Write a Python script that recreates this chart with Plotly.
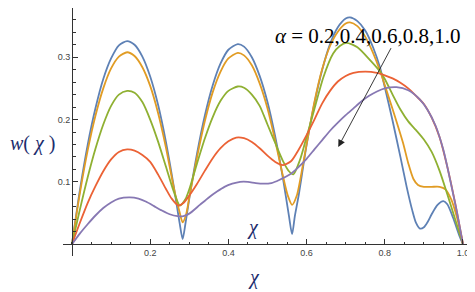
import plotly.graph_objects as go

# ---- data ----
x_a02 = [0, 0.02, 0.04, 0.06, 0.08, 0.10, 0.12, 0.141, 0.16, 0.18, 0.20, 0.22, 0.24, 0.26, 0.275, 0.283,
         0.29, 0.30, 0.32, 0.34, 0.36, 0.38, 0.40, 0.424, 0.44, 0.46, 0.48, 0.50, 0.52, 0.54, 0.555, 0.563,
         0.57, 0.58, 0.60, 0.62, 0.64, 0.66, 0.68, 0.70, 0.711, 0.73, 0.75, 0.77, 0.788, 0.80, 0.82, 0.84,
         0.856, 0.87, 0.88, 0.89, 0.90, 0.91, 0.92, 0.935, 0.95, 0.96, 0.975, 0.99, 1.0]
w_a02 = [0, 0.086, 0.159, 0.218, 0.265, 0.298, 0.319, 0.326, 0.320, 0.301, 0.269, 0.224, 0.165, 0.094, 0.035, 0.008,
         0.032, 0.073, 0.146, 0.207, 0.255, 0.290, 0.312, 0.321, 0.317, 0.300, 0.270, 0.228, 0.172, 0.104, 0.045, 0.016,
         0.045, 0.079, 0.159, 0.226, 0.280, 0.321, 0.348, 0.362, 0.364, 0.358, 0.343, 0.316, 0.283, 0.252, 0.198, 0.140,
         0.092, 0.055, 0.034, 0.025, 0.027, 0.036, 0.048, 0.063, 0.069, 0.064, 0.042, 0.015, 0]

x_a04 = [0, 0.02, 0.04, 0.06, 0.08, 0.10, 0.12, 0.141, 0.16, 0.18, 0.20, 0.22, 0.24, 0.26, 0.275, 0.283,
         0.292, 0.30, 0.32, 0.34, 0.36, 0.38, 0.40, 0.424, 0.44, 0.46, 0.48, 0.50, 0.52, 0.54, 0.552, 0.563,
         0.575, 0.59, 0.60, 0.62, 0.64, 0.66, 0.68, 0.70, 0.711, 0.73, 0.75, 0.77, 0.788, 0.81, 0.83, 0.847,
         0.86, 0.873, 0.885, 0.90, 0.92, 0.94, 0.955, 0.97, 0.985, 1.0]
w_a04 = [0, 0.081, 0.150, 0.206, 0.250, 0.282, 0.301, 0.308, 0.302, 0.284, 0.254, 0.211, 0.156, 0.092, 0.052, 0.035,
         0.048, 0.075, 0.140, 0.198, 0.244, 0.277, 0.298, 0.307, 0.303, 0.287, 0.258, 0.218, 0.165, 0.108, 0.078, 0.063,
         0.078, 0.125, 0.160, 0.228, 0.281, 0.318, 0.341, 0.354, 0.356, 0.350, 0.333, 0.307, 0.278, 0.236, 0.197, 0.162,
         0.130, 0.105, 0.095, 0.092, 0.092, 0.092, 0.088, 0.072, 0.042, 0]

x_a06 = [0, 0.02, 0.04, 0.06, 0.08, 0.10, 0.12, 0.141, 0.16, 0.18, 0.20, 0.22, 0.24, 0.26, 0.276,
         0.29, 0.30, 0.32, 0.34, 0.36, 0.38, 0.40, 0.424, 0.44, 0.46, 0.48, 0.50, 0.52, 0.54, 0.555, 0.566,
         0.583, 0.60, 0.617, 0.643, 0.668, 0.685, 0.702, 0.73, 0.76, 0.788, 0.80, 0.82, 0.84, 0.86, 0.88,
         0.90, 0.92, 0.94, 0.96, 0.98, 1.0]
w_a06 = [0, 0.055, 0.107, 0.153, 0.192, 0.222, 0.240, 0.246, 0.243, 0.228, 0.200, 0.165, 0.125, 0.085, 0.062,
         0.072, 0.088, 0.130, 0.170, 0.204, 0.230, 0.246, 0.253, 0.251, 0.240, 0.222, 0.192, 0.162, 0.133, 0.117, 0.112,
         0.135, 0.172, 0.210, 0.268, 0.306, 0.318, 0.323, 0.316, 0.297, 0.277, 0.265, 0.240, 0.216, 0.197, 0.183,
         0.168, 0.148, 0.118, 0.080, 0.040, 0]

x_a08 = [0, 0.02, 0.04, 0.06, 0.08, 0.10, 0.12, 0.141, 0.16, 0.18, 0.20, 0.22, 0.24, 0.255, 0.272,
         0.285, 0.30, 0.32, 0.34, 0.36, 0.38, 0.40, 0.42, 0.44, 0.46, 0.48, 0.50, 0.52, 0.54, 0.56,
         0.58, 0.60, 0.62, 0.64, 0.66, 0.68, 0.70, 0.72, 0.75, 0.78, 0.80, 0.82, 0.84, 0.86, 0.88,
         0.90, 0.92, 0.94, 0.96, 0.98, 1.0]
w_a08 = [0, 0.034, 0.066, 0.093, 0.117, 0.136, 0.148, 0.152, 0.150, 0.143, 0.132, 0.112, 0.089, 0.073, 0.062,
         0.066, 0.078, 0.097, 0.118, 0.138, 0.154, 0.165, 0.171, 0.170, 0.164, 0.154, 0.142, 0.132, 0.127, 0.133,
         0.152, 0.175, 0.200, 0.226, 0.246, 0.261, 0.270, 0.275, 0.277, 0.275, 0.271, 0.266, 0.259, 0.250, 0.238,
         0.225, 0.203, 0.172, 0.124, 0.066, 0]

x_a10 = [0, 0.02, 0.04, 0.06, 0.08, 0.10, 0.12, 0.148, 0.17, 0.19, 0.21, 0.23, 0.25, 0.27, 0.285,
         0.30, 0.327, 0.35, 0.37, 0.39, 0.41, 0.43, 0.45, 0.47, 0.49, 0.51, 0.53, 0.56, 0.58, 0.60,
         0.62, 0.64, 0.66, 0.68, 0.70, 0.72, 0.74, 0.76, 0.78, 0.80, 0.83, 0.86, 0.89, 0.91, 0.93,
         0.95, 0.97, 0.985, 1.0]
w_a10 = [0, 0.017, 0.032, 0.046, 0.058, 0.067, 0.073, 0.075, 0.073, 0.068, 0.061, 0.054, 0.048, 0.045, 0.045,
         0.049, 0.063, 0.075, 0.084, 0.092, 0.097, 0.100, 0.100, 0.098, 0.097, 0.098, 0.103, 0.113, 0.124, 0.137,
         0.152, 0.167, 0.182, 0.195, 0.207, 0.218, 0.229, 0.238, 0.245, 0.250, 0.252, 0.247, 0.232, 0.215, 0.190,
         0.151, 0.095, 0.050, 0]

alphas = ["0.2", "0.4", "0.6", "0.8", "1.0"]
colors = ["#5E81B5", "#E19C24", "#8FB032", "#EB6235", "#8778B3"]
x_ticks = [0.2, 0.4, 0.6, 0.8, 1.0]
x_ticklabels = ["0.2", "0.4", "0.6", "0.8", "1.0"]
y_ticks = [0.1, 0.2, 0.3]
y_ticklabels = ["0.1", "0.2", "0.3"]

series = [(x_a02, w_a02), (x_a04, w_a04), (x_a06, w_a06), (x_a08, w_a08), (x_a10, w_a10)]

x_range = [-0.023, 1.018]
y_range = [-0.019, 0.379]


def px(x):
    return (x - x_range[0]) / (x_range[1] - x_range[0])


def py(y):
    return (y - y_range[0]) / (y_range[1] - y_range[0])


fig = go.Figure()
for (xs, ys), a, c in zip(series, alphas, colors):
    assert len(xs) == len(ys), a
    fig.add_trace(go.Scatter(x=xs, y=ys, mode="lines", name="α=" + a,
                             line=dict(color=c, width=1.8, shape="spline", smoothing=0.7)))

tickfont = dict(family="Liberation Sans, Arial, sans-serif", size=9, color="#444444")
serif = "Liberation Serif, Times New Roman, serif"
navy = "#1c2d6e"

# the page body adds an 8px offset, so the figure is sized 8px smaller
fig.update_layout(
    width=467, height=284,
    margin=dict(l=55, r=5, t=0, b=36, autoexpand=False),
    plot_bgcolor="white", paper_bgcolor="white",
    showlegend=False,
    xaxis=dict(range=x_range, showgrid=False, zeroline=False, showline=True, linecolor="#333",
               linewidth=1, anchor="free", position=py(0), automargin=False,
               tickmode="array", tickvals=x_ticks, ticktext=x_ticklabels,
               ticks="inside", ticklen=5, tickcolor="#333", tickwidth=1, tickfont=tickfont,
               minor=dict(tickmode="linear", tick0=0, dtick=0.05, ticks="inside", ticklen=2.5,
                          tickcolor="#333", tickwidth=1, showgrid=False)),
    yaxis=dict(range=y_range, showgrid=False, zeroline=False, showline=True, linecolor="#333",
               linewidth=1, anchor="free", position=px(0), automargin=False,
               tickmode="array", tickvals=y_ticks, ticktext=y_ticklabels,
               ticks="inside", ticklen=5, tickcolor="#333", tickwidth=1, tickfont=tickfont,
               minor=dict(tickmode="linear", tick0=0, dtick=0.02, ticks="inside", ticklen=3,
                          tickcolor="#333", tickwidth=1, showgrid=False)),
)

common = dict(xref="paper", yref="paper", showarrow=False, xanchor="center", yanchor="middle")
fig.add_annotation(x=px(-0.100), y=py(0.162), text="<i>w</i>( <i>χ</i> )",
                   font=dict(family=serif, size=20, color=navy), **common)
fig.add_annotation(x=px(0.463), y=py(0.027), text="<i>χ</i>",
                   font=dict(family=serif, size=20, color=navy), **common)
fig.add_annotation(x=px(0.465), y=py(-0.053), text="<i>χ</i>",
                   font=dict(family=serif, size=20, color=navy), **common)
fig.add_annotation(x=px(0.757), y=py(0.334), text="<i>α</i> = " + ",".join(alphas),
                   font=dict(family=serif, size=21, color="black"), **common)
fig.add_annotation(x=0.681, y=0.156, ax=0.818, ay=0.317, xref="x", yref="y",
                   axref="x", ayref="y", text="", showarrow=True,
                   arrowhead=2, arrowsize=1.6, arrowwidth=0.9, arrowcolor="#222222")

fig.write_html("out.html")
